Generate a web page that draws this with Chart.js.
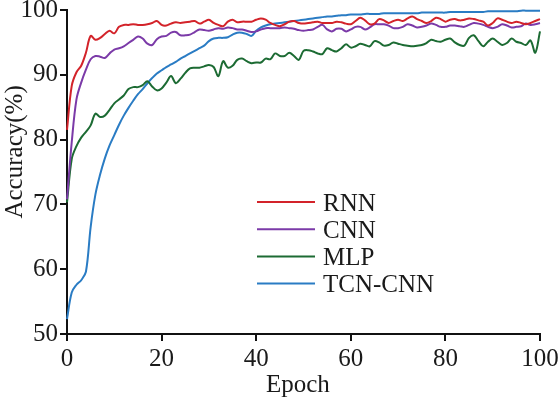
<!DOCTYPE html>
<html>
<head>
<meta charset="utf-8">
<script src="https://cdn.jsdelivr.net/npm/chart.js@4"></script>
<style>
html,body{margin:0;padding:0;background:#fff;}
#wrap{width:558px;height:401px;}
</style>
</head>
<body>
<div id="wrap"><canvas id="c" width="558" height="401"></canvas></div>
<script>
const epochs = [0,1,2,3,4,5,6,7,8,9,10,11,12,13,14,15,16,17,18,19,20,21,22,23,24,25,26,27,28,29,30,31,32,33,34,35,36,37,38,39,40,41,42,43,44,45,46,47,48,49,50,51,52,53,54,55,56,57,58,59,60,61,62,63,64,65,66,67,68,69,70,71,72,73,74,75,76,77,78,79,80,81,82,83,84,85,86,87,88,89,90,91,92,93,94,95,96,97,98,99,100];

const seriesNames = ["RNN", "CNN", "MLP", "TCN-CNN"];

const rnn = [81.5,88.3,90.4,91.4,93.4,96.0,95.4,95.7,96.3,96.8,96.4,97.4,97.7,97.7,97.8,97.7,97.7,97.8,98.0,98.3,97.7,97.6,97.9,98.1,98.0,98.1,98.2,98.3,97.9,98.2,98.5,98.0,97.7,97.5,98.2,98.5,98.1,98.2,98.2,98.2,98.5,98.7,98.5,98.0,97.7,97.5,97.8,98.2,98.3,98.0,97.9,98.0,98.1,98.2,98.0,98.0,98.0,98.2,98.1,97.9,97.8,98.3,98.8,98.4,97.8,97.9,98.6,98.4,98.0,98.3,98.5,98.3,98.7,99.0,98.6,98.3,98.0,98.3,98.8,98.6,98.2,98.5,98.6,98.4,98.5,98.7,98.6,98.4,98.2,97.6,98.0,98.7,98.5,98.2,98.0,98.2,98.0,97.8,98.0,98.3,98.6];

const cnn = [70.8,79.6,86.2,88.8,90.8,92.4,92.9,92.8,92.6,93.3,93.9,94.1,94.4,94.9,95.4,95.9,95.6,94.8,94.6,95.5,95.9,96.0,96.5,96.6,96.1,96.1,96.2,96.6,97.0,96.9,96.8,97.0,97.2,97.1,97.3,97.2,97.0,97.0,96.8,96.6,96.7,97.0,97.2,97.2,97.2,97.2,97.3,97.2,97.1,96.9,96.8,96.9,97.0,97.4,97.7,97.0,96.7,97.1,97.1,96.7,97.0,97.4,97.4,97.0,97.3,97.8,97.8,97.8,97.6,97.2,97.2,97.4,97.8,97.6,97.3,97.4,97.6,97.9,97.7,97.4,97.4,97.6,97.6,97.5,97.4,97.7,98.0,97.9,97.7,97.4,97.2,97.4,97.8,97.6,97.3,97.4,97.5,97.9,97.7,97.8,98.0];

const mlp = [70.3,77.0,79.0,80.3,81.2,82.2,84.0,83.5,83.7,84.6,85.6,86.2,86.8,87.8,88.1,88.1,88.4,89.0,88.2,87.6,87.9,88.8,89.8,88.7,89.4,90.3,91.0,91.1,91.1,91.3,91.5,91.2,89.8,92.1,91.1,91.4,92.3,92.5,92.1,91.8,91.9,91.9,92.5,92.4,93.3,92.9,92.9,93.4,92.9,92.3,93.7,93.8,93.6,93.3,93.2,94.1,93.8,93.6,94.1,94.7,94.2,94.4,94.8,94.6,94.4,95.2,95.0,94.5,94.6,95.0,94.8,94.6,94.5,94.4,94.5,94.6,94.9,95.4,95.2,95.1,95.4,95.6,95.0,94.6,94.5,95.7,96.1,95.2,94.4,95.1,95.6,95.1,94.6,94.9,95.6,95.1,94.9,94.6,95.3,93.4,96.7];

const tcn = [52.3,56.4,57.6,58.3,59.6,66.5,71.5,74.6,77.1,79.1,80.7,82.3,83.7,84.9,86.0,87.0,87.8,88.7,89.5,90.2,90.7,91.2,91.6,92.0,92.5,92.9,93.3,93.7,94.1,94.5,95.2,95.6,95.7,95.7,95.8,96.2,96.5,96.5,96.3,96.0,96.8,97.3,97.6,97.8,97.9,98.0,98.1,98.2,98.3,98.4,98.5,98.6,98.7,98.8,98.9,99.0,99.0,99.1,99.2,99.2,99.3,99.3,99.3,99.4,99.4,99.4,99.4,99.5,99.5,99.5,99.5,99.5,99.5,99.5,99.5,99.6,99.6,99.6,99.6,99.6,99.6,99.7,99.7,99.7,99.7,99.7,99.7,99.7,99.7,99.8,99.8,99.8,99.8,99.8,99.8,99.8,99.9,99.9,99.9,99.9,99.9];

const xTicks = [0,20,40,60,80,100];
const yTicks = [50,60,70,80,90,100];
const xTitle = "Epoch";
const yTitle = "Accuracy(%)";

const colors = ["#d3232a", "#7b3aa8", "#1c6b33", "#2a7cc4"];
const allSeries = [rnn, cnn, mlp, tcn];

const FONT = "'Liberation Serif','Times New Roman',serif";
const TXT = '#1a1a1a';

const datasets = allSeries.map((s, i) => ({
  label: seriesNames[i],
  data: s.map((v, j) => ({x: epochs[j], y: v})),
  borderColor: colors[i],
  backgroundColor: colors[i],
  borderWidth: 2,
  pointRadius: 0,
  tension: 0.35,
  fill: false,
  clip: false
}));

const decorPlugin = {
  id: 'decor',
  afterDraw(chart) {
    const ctx = chart.ctx;
    const a = chart.chartArea;
    ctx.save();
    ctx.fillStyle = TXT;
    ctx.font = "25px " + FONT;
    ctx.textAlign = 'center';
    ctx.textBaseline = 'alphabetic';
    ctx.fillText(xTitle, a.left + (a.right - a.left) * 0.488, 392);
    ctx.save();
    ctx.translate(22, a.top + (a.bottom - a.top) * 0.438);
    ctx.rotate(-Math.PI / 2);
    ctx.fillText(yTitle, 0, 0);
    ctx.restore();
    const x0 = 257, x1 = 315, tx = 323, y0 = 202, dy = 27.2;
    ctx.font = "25px " + FONT;
    ctx.textBaseline = 'middle';
    ctx.textAlign = 'left';
    chart.data.datasets.forEach((ds, i) => {
      const y = y0 + i * dy;
      ctx.strokeStyle = ds.borderColor;
      ctx.lineWidth = 2;
      ctx.beginPath();
      ctx.moveTo(x0, y);
      ctx.lineTo(x1, y);
      ctx.stroke();
      ctx.fillStyle = TXT;
      ctx.fillText(ds.label, tx, y + 2);
    });
    ctx.restore();
  }
};

new Chart(document.getElementById('c'), {
  type: 'line',
  data: { datasets },
  options: {
    responsive: false,
    animation: false,
    events: [],
    layout: { padding: { top: 10, right: 18, left: 0, bottom: 0 } },
    plugins: { legend: { display: false }, tooltip: { enabled: false } },
    scales: {
      x: {
        type: 'linear',
        min: 0, max: 100,
        afterBuildTicks(scale) { scale.ticks = xTicks.map(v => ({value: v})); },
        afterFit(scale) { scale.height = 67; scale.paddingLeft = 0; scale.paddingRight = 0; },
        grid: { drawOnChartArea: false, drawTicks: true, tickLength: 7, color: '#111', lineWidth: 2 },
        border: { display: true, color: '#111', width: 2 },
        ticks: { color: TXT, font: { family: FONT, size: 25 }, padding: 3, maxRotation: 0 },
        title: { display: false }
      },
      y: {
        min: 50, max: 100,
        afterBuildTicks(scale) { scale.ticks = yTicks.map(v => ({value: v})); },
        afterFit(scale) { scale.width = 67; scale.paddingTop = 0; scale.paddingBottom = 0; },
        grid: { drawOnChartArea: false, drawTicks: true, tickLength: 7, color: '#111', lineWidth: 2 },
        border: { display: true, color: '#111', width: 2 },
        ticks: { color: TXT, font: { family: FONT, size: 25 }, padding: 2 },
        title: { display: false }
      }
    }
  },
  plugins: [decorPlugin]
});
</script>
</body>
</html>
